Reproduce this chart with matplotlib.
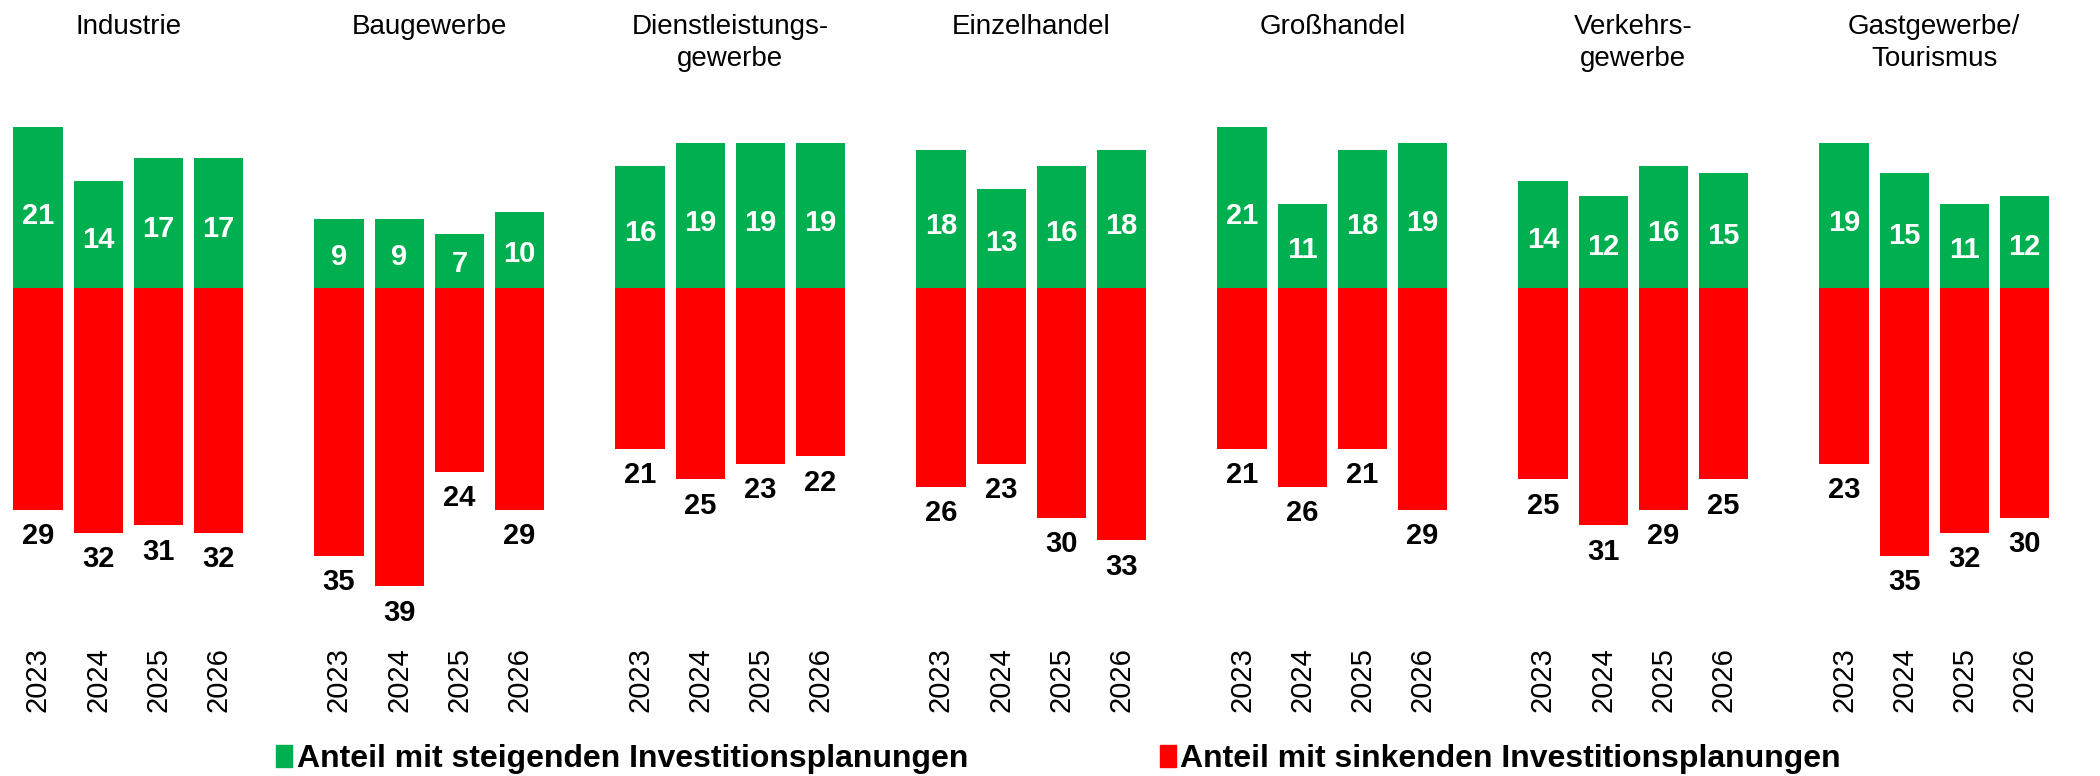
import matplotlib.pyplot as plt
from matplotlib.patches import Patch

plt.rcParams['font.family'] = ['Liberation Sans', 'DejaVu Sans']

sectors = ["Industrie", "Baugewerbe", "Dienstleistungs-\ngewerbe", "Einzelhandel",
           "Großhandel", "Verkehrs-\ngewerbe", "Gastgewerbe/\nTourismus"]
years = ["2023", "2024", "2025", "2026"]

rising = [
    [21, 14, 17, 17],
    [9, 9, 7, 10],
    [16, 19, 19, 19],
    [18, 13, 16, 18],
    [21, 11, 18, 19],
    [14, 12, 16, 15],
    [19, 15, 11, 12],
]
falling = [
    [29, 32, 31, 32],
    [35, 39, 24, 29],
    [21, 25, 23, 22],
    [26, 23, 30, 33],
    [21, 26, 21, 29],
    [25, 31, 29, 25],
    [23, 35, 32, 30],
]

GREEN = "#00B050"
RED = "#FF0000"

fig = plt.figure(figsize=(21, 7.76), dpi=100)
ax = fig.add_axes([0, 0, 1, 1])

# pixel geometry of the original: zero line at 288 px, 7.65 px per point
zero_px, px_unit = 288, 7.65
ax.set_xlim(-38 / 60.2, (2100 - 38) / 60.2)
ax.set_ylim(-(776 - zero_px) / px_unit, zero_px / px_unit)
ax.axis("off")

for g, name in enumerate(sectors):
    xs = [g * 5 + j for j in range(len(years))]
    ax.bar(xs, rising[g], width=0.82, color=GREEN)
    ax.bar(xs, [-v for v in falling[g]], width=0.82, color=RED)
    for x, up, down, yr in zip(xs, rising[g], falling[g], years):
        ax.text(x, up * 0.45, str(up), ha="center", va="center", color="white",
                fontsize=21, fontweight="bold")
        ax.annotate(str(down), (x, -down), xytext=(0, -19), textcoords="offset points",
                    ha="center", va="center", fontsize=21, fontweight="bold")
        ax.text(x, -51.2, yr, rotation=90, ha="center", va="center", fontsize=21)
    ax.text(sum(xs) / len(xs), 35.8, name, ha="center", va="top", fontsize=20,
            linespacing=1.3)

handles = [Patch(color=GREEN, label="Anteil mit steigenden Investitionsplanungen"),
           Patch(color=RED, label="Anteil mit sinkenden Investitionsplanungen")]
fig.legend(handles=handles, loc="center", bbox_to_anchor=(0.504, 1 - 759 / 776), ncol=2,
           frameon=False, prop={"size": 23, "weight": "bold"}, handlelength=0.5,
           handleheight=0.7, handletextpad=0.15, columnspacing=6, borderpad=0)

fig.savefig("out.png", dpi=100)
